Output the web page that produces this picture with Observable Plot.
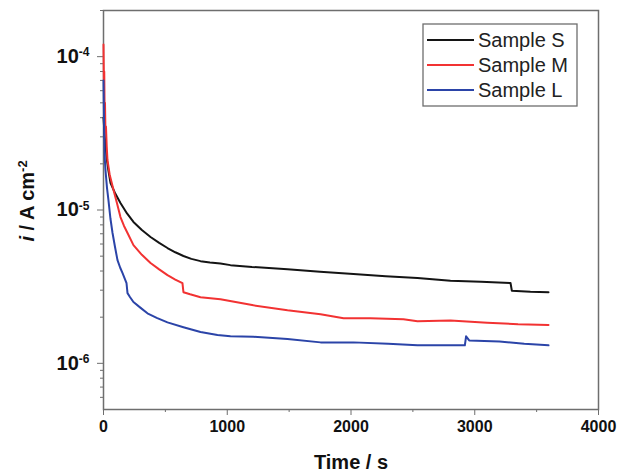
<!DOCTYPE html>
<html>
<head>
<meta charset="utf-8">
<script src="https://cdn.jsdelivr.net/npm/d3@7"></script>
<script src="https://cdn.jsdelivr.net/npm/@observablehq/plot@0.6"></script>
<style>
  html, body { margin: 0; padding: 0; background: #fff; }
  #chart { position: relative; width: 617px; height: 472px; }
  svg { font-family: "Liberation Sans", Arial, sans-serif; }
</style>
</head>
<body>
<div id="chart"></div>
<script>
// ---- data ----
const seriesNames = ["Sample S", "Sample M", "Sample L"];
const seriesColors = ["#141414", "#f23232", "#2b44a8"];

const sTime  = [0, 10, 25, 40, 57, 95, 137, 190, 242, 310, 380, 450, 517, 580, 646, 710, 784, 860, 945, 1026, 1200, 1487, 1750, 2020, 2280, 2537, 2804, 3050, 3289, 3300, 3450, 3596];
const sValue = [4e-5, 3e-5, 2.2e-5, 1.8e-5, 1.5e-5, 1.28e-5, 1.11e-5, 9.5e-6, 8.36e-6, 7.4e-6, 6.67e-6, 6.1e-6, 5.65e-6, 5.3e-6, 5.01e-6, 4.8e-6, 4.64e-6, 4.55e-6, 4.48e-6, 4.37e-6, 4.25e-6, 4.11e-6, 3.95e-6, 3.82e-6, 3.7e-6, 3.6e-6, 3.45e-6, 3.4e-6, 3.34e-6, 2.97e-6, 2.93e-6, 2.91e-6];

const mTime  = [0, 3, 6, 9, 12, 16, 20, 26, 32, 50, 81, 110, 137, 165, 194, 242, 310, 380, 450, 517, 580, 638, 646, 700, 784, 945, 1212, 1487, 1754, 1940, 2157, 2424, 2537, 2804, 3100, 3350, 3596];
const mValue = [1.2e-4, 7e-5, 8e-5, 4.5e-5, 5e-5, 3.2e-5, 3.5e-5, 2.6e-5, 2.12e-5, 1.7e-5, 1.35e-5, 1.1e-5, 9.0e-6, 7.9e-6, 7.08e-6, 5.9e-6, 5.1e-6, 4.51e-6, 4.1e-6, 3.76e-6, 3.52e-6, 3.33e-6, 2.91e-6, 2.82e-6, 2.7e-6, 2.62e-6, 2.39e-6, 2.22e-6, 2.09e-6, 1.97e-6, 1.97e-6, 1.94e-6, 1.88e-6, 1.9e-6, 1.84e-6, 1.8e-6, 1.78e-6];

const lTime  = [0, 3, 6, 10, 16, 28, 40, 56, 73, 92, 113, 135, 154, 186, 194, 215, 242, 300, 355, 430, 517, 646, 784, 921, 1026, 1212, 1487, 1754, 2020, 2300, 2537, 2800, 2920, 2930, 2955, 3200, 3400, 3596];
const lValue = [7e-5, 4.5e-5, 3e-5, 2.2e-5, 1.82e-5, 1.4e-5, 1.16e-5, 8.8e-6, 7.08e-6, 5.8e-6, 4.71e-6, 4.2e-6, 3.87e-6, 3.33e-6, 2.87e-6, 2.7e-6, 2.51e-6, 2.3e-6, 2.12e-6, 1.98e-6, 1.85e-6, 1.72e-6, 1.6e-6, 1.53e-6, 1.5e-6, 1.49e-6, 1.44e-6, 1.37e-6, 1.37e-6, 1.34e-6, 1.31e-6, 1.31e-6, 1.31e-6, 1.5e-6, 1.41e-6, 1.39e-6, 1.34e-6, 1.31e-6];

const xMajorTicks = [0, 1000, 2000, 3000, 4000];
const xMinorTicks = [500, 1500, 2500, 3500];
const yMajorTicks = [1e-6, 1e-5, 1e-4];
const yMinorTicks = [6e-7, 7e-7, 8e-7, 9e-7,
  2e-6, 3e-6, 4e-6, 5e-6, 6e-6, 7e-6, 8e-6, 9e-6,
  2e-5, 3e-5, 4e-5, 5e-5, 6e-5, 7e-5, 8e-5, 9e-5, 2e-4];

const xTitle = "Time / s";

// ---- build table ----
const rows = [];
[[sTime, sValue], [mTime, mValue], [lTime, lValue]].forEach(([t, v], k) => {
  t.forEach((tt, i) => rows.push({series: seriesNames[k], time: tt, value: v[i]}));
});

const axisGray = "#6e6e6e";

const chart = Plot.plot({
  width: 617,
  height: 472,
  marginLeft: 103,
  marginRight: 19,
  marginTop: 10,
  marginBottom: 63,
  style: {background: "#fff", color: "#111", fontFamily: "'Liberation Sans', Arial, sans-serif"},
  x: {domain: [0, 4000]},
  y: {type: "log", domain: [5e-7, 2e-4]},
  color: {domain: seriesNames, range: seriesColors},
  marks: [
    Plot.frame({stroke: axisGray, strokeWidth: 1.5}),
    Plot.axisX({ticks: xMajorTicks, tickSize: 6, tickPadding: 5, tickFormat: d => String(d), label: null, stroke: axisGray}),
    Plot.axisX({ticks: xMinorTicks, tickSize: 3, tickFormat: () => "", label: null, stroke: axisGray}),
    Plot.axisY({ticks: yMajorTicks, tickSize: 6, tickPadding: 8, tickFormat: d => "10^" + Math.round(Math.log10(d)), label: null, stroke: axisGray}),
    Plot.axisY({ticks: yMinorTicks, tickSize: 3, tickFormat: () => "", label: null, stroke: axisGray}),
    Plot.line(rows, {x: "time", y: "value", z: "series", stroke: "series", strokeWidth: 2, curve: "linear"})
  ]
});

document.getElementById("chart").appendChild(chart);

const svg = d3.select(chart);

svg.selectAll('g[aria-label="x-axis tick label"]')
  .attr("font-size", 16).attr("font-weight", "bold");
svg.selectAll('g[aria-label="x-axis tick label"] text')
  .attr("font-size", 16).attr("font-weight", "bold").attr("fill", "#111");

// superscript exponents on y tick labels
svg.selectAll('g[aria-label="y-axis tick label"] text').each(function() {
  const t = this.textContent;
  if (!t.includes("^")) return;
  const [base, exp] = t.split("^");
  const el = d3.select(this)
    .attr("font-size", 20).attr("font-weight", "bold").attr("fill", "#111");
  el.text(null);
  el.append("tspan").text(base);
  el.append("tspan").attr("dy", "-0.55em").attr("font-size", 12).text(exp);
});

// axis titles
svg.append("text")
  .attr("x", 351).attr("y", 464)
  .attr("text-anchor", "middle").attr("dominant-baseline", "middle")
  .attr("font-size", 20).attr("font-weight", "bold").attr("fill", "#111")
  .text(xTitle);

const yl = svg.append("text")
  .attr("transform", "translate(34,201) rotate(-90)")
  .attr("text-anchor", "middle")
  .attr("font-size", 20).attr("font-weight", "bold").attr("fill", "#111");
yl.append("tspan").attr("font-style", "italic").text("i");
yl.append("tspan").text(" / A cm");
yl.append("tspan").attr("dy", "-0.55em").attr("font-size", 13).text("-2");

// legend
const lg = svg.append("g").attr("transform", "translate(423,24)");
lg.append("rect").attr("width", 154).attr("height", 82)
  .attr("fill", "#fff").attr("stroke", axisGray).attr("stroke-width", 1.3);
seriesNames.forEach((name, i) => {
  const y = 16 + i * 25;
  lg.append("line").attr("x1", 4).attr("x2", 51).attr("y1", y).attr("y2", y)
    .attr("stroke", seriesColors[i]).attr("stroke-width", 2);
  lg.append("text").attr("x", 55).attr("y", y).attr("dy", "0.36em")
    .attr("text-anchor", "start")
    .attr("font-size", 20).attr("fill", "#222").text(name);
});
</script>
</body>
</html>
